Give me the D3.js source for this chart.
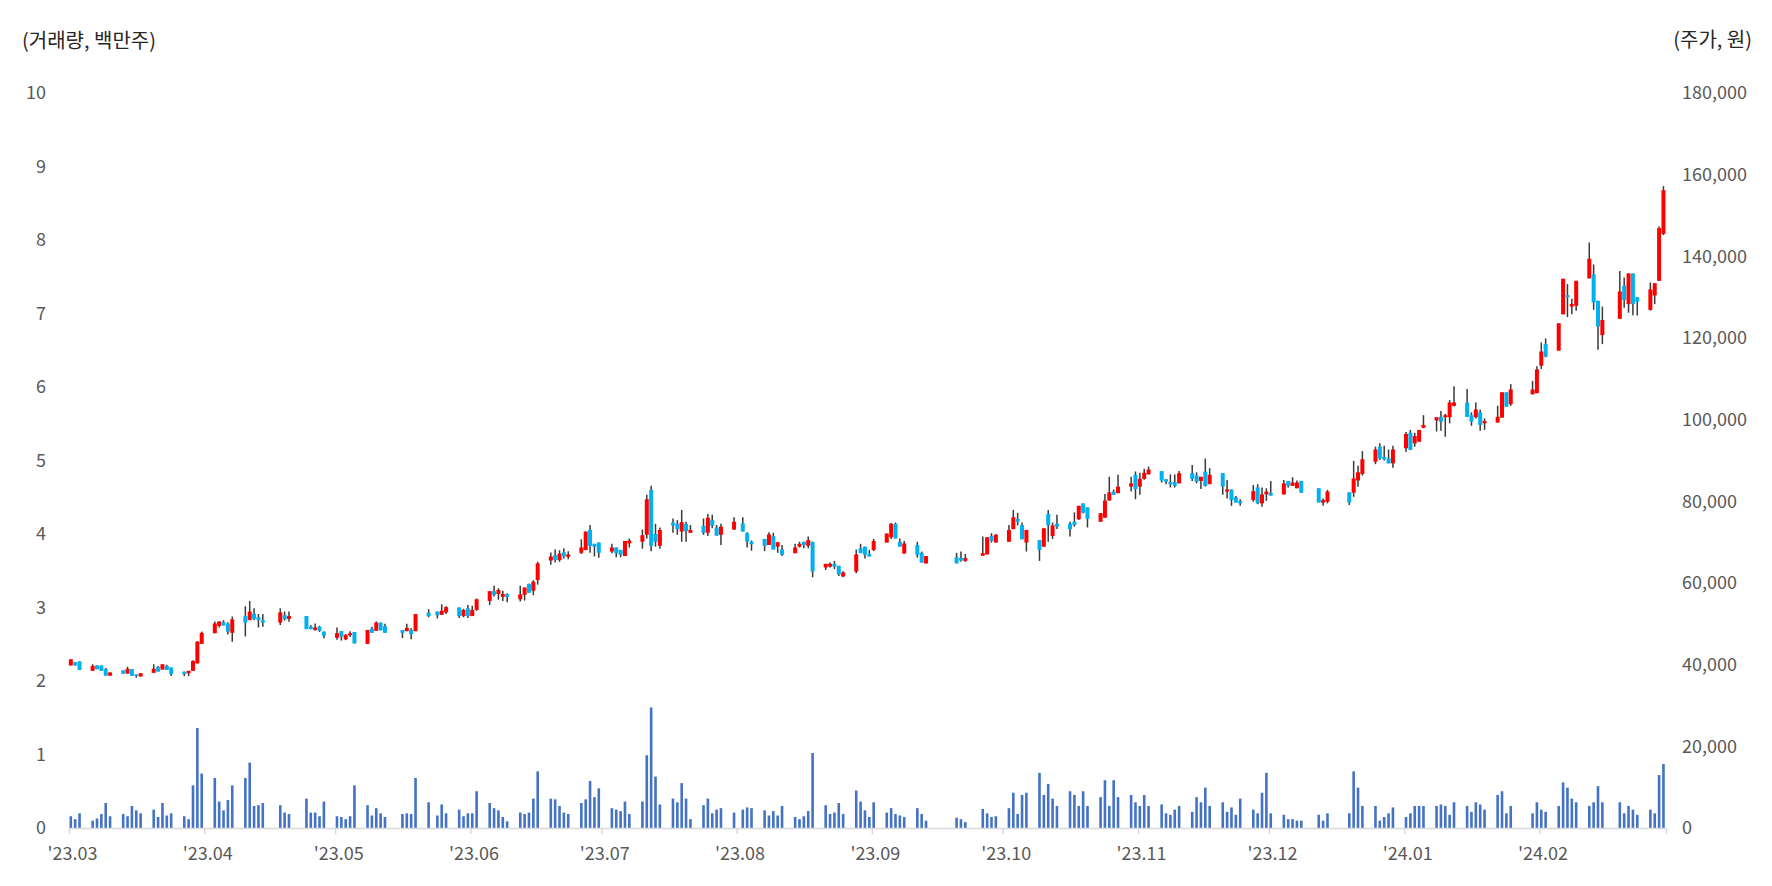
<!DOCTYPE html>
<html><head><meta charset="utf-8">
<script src="https://cdn.jsdelivr.net/npm/d3@7"></script>
<style>
body{margin:0;background:#fff;}
svg{display:block;}
text{font-family:"Noto Sans CJK KR","Noto Sans",sans-serif;}
</style>
</head><body>
<svg id="chart" width="1772" height="886"></svg>
<script>
const dates = [
"2023-03-01","2023-03-02","2023-03-03","2023-03-06","2023-03-07","2023-03-08","2023-03-09","2023-03-10","2023-03-13","2023-03-14","2023-03-15","2023-03-16","2023-03-17","2023-03-20","2023-03-21","2023-03-22","2023-03-23","2023-03-24","2023-03-27","2023-03-28","2023-03-29","2023-03-30","2023-03-31",
"2023-04-03","2023-04-04","2023-04-05","2023-04-06","2023-04-07","2023-04-10","2023-04-11","2023-04-12","2023-04-13","2023-04-14","2023-04-18","2023-04-19","2023-04-20","2023-04-24","2023-04-25","2023-04-26","2023-04-27","2023-04-28",
"2023-05-01","2023-05-02","2023-05-03","2023-05-04","2023-05-05","2023-05-08","2023-05-09","2023-05-10","2023-05-11","2023-05-12","2023-05-16","2023-05-17","2023-05-18","2023-05-19","2023-05-22","2023-05-24","2023-05-25","2023-05-26","2023-05-29","2023-05-30","2023-05-31",
"2023-06-01","2023-06-02","2023-06-05","2023-06-06","2023-06-07","2023-06-08","2023-06-09","2023-06-12","2023-06-13","2023-06-14","2023-06-15","2023-06-16","2023-06-19","2023-06-20","2023-06-21","2023-06-22","2023-06-23","2023-06-26","2023-06-27","2023-06-28","2023-06-29","2023-06-30",
"2023-07-03","2023-07-04","2023-07-05","2023-07-06","2023-07-07","2023-07-10","2023-07-11","2023-07-12","2023-07-13","2023-07-14","2023-07-17","2023-07-18","2023-07-19","2023-07-20","2023-07-21","2023-07-24","2023-07-25","2023-07-26","2023-07-27","2023-07-28","2023-07-31",
"2023-08-02","2023-08-03","2023-08-04","2023-08-07","2023-08-08","2023-08-09","2023-08-10","2023-08-11","2023-08-14","2023-08-15","2023-08-16","2023-08-17","2023-08-18","2023-08-21","2023-08-22","2023-08-23","2023-08-24","2023-08-25","2023-08-28","2023-08-29","2023-08-30","2023-08-31",
"2023-09-01","2023-09-04","2023-09-05","2023-09-06","2023-09-07","2023-09-08","2023-09-11","2023-09-12","2023-09-13","2023-09-20","2023-09-21","2023-09-22","2023-09-26","2023-09-27","2023-09-28","2023-09-29",
"2023-10-02","2023-10-03","2023-10-04","2023-10-05","2023-10-06","2023-10-09","2023-10-10","2023-10-11","2023-10-12","2023-10-13","2023-10-16","2023-10-17","2023-10-18","2023-10-19","2023-10-20","2023-10-23","2023-10-24","2023-10-25","2023-10-26","2023-10-27","2023-10-30","2023-10-31",
"2023-11-01","2023-11-02","2023-11-03","2023-11-06","2023-11-07","2023-11-08","2023-11-09","2023-11-10","2023-11-13","2023-11-14","2023-11-15","2023-11-16","2023-11-17","2023-11-20","2023-11-21","2023-11-22","2023-11-23","2023-11-24","2023-11-27","2023-11-28","2023-11-29","2023-11-30",
"2023-12-01","2023-12-04","2023-12-05","2023-12-06","2023-12-07","2023-12-08","2023-12-12","2023-12-13","2023-12-14","2023-12-19","2023-12-20","2023-12-21","2023-12-22","2023-12-25","2023-12-26","2023-12-27","2023-12-28","2023-12-29",
"2024-01-01","2024-01-02","2024-01-03","2024-01-04","2024-01-05","2024-01-08","2024-01-09","2024-01-10","2024-01-11","2024-01-12","2024-01-15","2024-01-16","2024-01-17","2024-01-18","2024-01-19","2024-01-22","2024-01-23","2024-01-24","2024-01-25","2024-01-30","2024-01-31",
"2024-02-01","2024-02-02","2024-02-05","2024-02-06","2024-02-07","2024-02-08","2024-02-09","2024-02-12","2024-02-13","2024-02-14","2024-02-15","2024-02-19","2024-02-20","2024-02-21","2024-02-22","2024-02-23","2024-02-26","2024-02-27","2024-02-28","2024-02-29"
];
const openPrice = [
39800,40600,40800,38500,39800,39800,38900,37300,38600,37800,38900,37600,37100,38000,39400,38800,39700,39300,38300,37900,38500,40300,45100,
47700,49500,50400,50100,47800,51900,50900,52500,51600,50900,50300,52100,51200,51900,49300,48500,49300,48100,
46600,48200,46200,47200,48000,45100,48800,48300,50300,49400,48500,48200,48500,48200,52700,53000,52200,52800,54000,51900,53800,
51900,53400,55600,58000,57300,56600,57300,56000,57100,59800,58100,60700,65500,66800,65600,67500,66400,67400,68100,73000,69600,69900,
67700,68700,68100,66600,69700,70100,71800,82800,72000,69100,74800,74500,72600,74500,72300,74000,72300,75400,73600,71800,73100,
74600,72200,70100,70800,69300,71500,68900,68200,67300,68900,70100,69100,70100,63800,64000,64700,64200,61600,62800,68500,68900,67100,
68100,69900,71200,74500,70100,67200,69300,67400,64800,66300,66100,65400,66700,67000,71500,69900,
70100,73200,75700,74200,69900,70500,68900,76900,71500,74500,74500,75000,75600,79500,78500,75000,76000,80200,82400,82000,83600,86500,
83600,85500,86600,87400,85400,84700,84700,84400,86900,86300,85000,87300,84200,86900,82400,82900,81000,80100,80300,83400,79500,81700,
82100,81700,85000,83800,83200,85000,83200,79700,79900,82200,82100,85100,86700,89700,93400,90900,90500,89300,
93000,96800,94200,94600,98000,99800,100700,100600,100600,103400,104200,101100,100600,101800,99100,99300,100500,106700,103800,106200,106500,
113200,118500,116900,125800,130500,127700,127900,134600,135600,129100,120700,124700,132800,128300,135800,130000,126900,130400,134000,145500
];
const highPrice = [
41300,40600,40800,40100,39800,39800,39200,38100,38600,39500,38900,37600,37900,40100,39700,40100,40000,39300,38300,38500,41100,45800,48100,
50600,50600,50900,50400,51800,54300,55600,53800,52400,52400,53800,53000,53000,51900,49700,50100,49500,48100,
49100,48200,47500,48200,48000,48500,49300,50600,50300,50000,48500,50000,48900,52400,53600,53000,54800,54300,54000,53700,54600,
54400,56200,58000,59300,58700,58100,57500,59300,58900,59800,60700,65200,67500,68200,68000,68500,67800,70700,72600,74200,69600,69900,
69600,68700,68100,70300,70900,73100,81600,83800,74500,73600,75800,75400,77900,75000,74200,75800,76900,76700,74200,74500,76100,
76100,72400,70400,70800,72400,72300,70000,69300,69600,70100,70100,71400,70100,64700,65000,65400,64200,62900,68200,69600,68900,68100,
70800,72100,74700,74800,70900,70300,70100,67700,66600,67400,67700,67100,71400,71200,72200,72000,
74200,77900,77200,74800,73000,70500,73400,77900,74800,76700,75000,77300,78900,79500,78500,77100,81800,86000,82900,86500,86000,87300,
87000,88000,88500,87400,85400,86600,86600,87400,88900,87100,86000,90500,88100,86900,85200,82900,81300,80500,84000,84200,83400,83200,
85000,85200,85000,85900,85100,85000,83200,80700,82800,82200,89900,88700,92300,93400,94200,93600,92700,93600,
97000,97500,96800,97500,101100,100600,102100,101400,104800,108200,107500,101800,104200,102400,100300,103400,106700,106700,108700,109500,113100,
118900,119900,123600,134500,133200,129600,134000,143400,138000,129100,127700,136400,134800,135800,135800,130000,133600,133400,147300,157200
];
const lowPrice = [
39800,39800,38700,38500,38900,38500,37300,37300,37800,37800,37300,36800,37100,38000,38300,38800,38700,37200,37200,37200,38500,40300,45100,
47700,49100,49600,47400,45600,46900,50900,50900,49100,49300,49700,50800,50500,48700,48700,48300,48000,46500,
46100,45900,46000,46800,45200,45100,47800,48300,48400,47800,46500,48200,46200,48200,51600,51300,52200,52400,51400,51600,51400,
51900,53200,54600,56700,55900,55600,55300,55500,55700,57600,57000,59600,64500,65000,65200,66000,65800,67100,68000,67400,66500,66200,
67300,66300,66300,66600,68700,68400,70900,67800,68900,68400,72300,71800,70100,70100,72300,71800,71500,73400,71600,69300,73000,
72600,68700,67900,67800,69300,68200,67400,66600,67300,68700,68500,68500,61400,63200,63800,63400,61700,61400,62400,67300,66000,66500,
67800,69900,70800,70900,68900,67200,66200,65000,64800,64800,65200,65200,66700,67000,69900,69900,
70100,73200,74100,70700,67700,65400,68900,70100,70800,73200,71400,73800,75400,77100,73600,75000,76000,80200,81600,82000,82400,80500,
81600,85300,86600,84600,84200,83400,83400,84400,85000,84400,83000,83600,84200,81600,80700,78900,79700,78900,79900,79300,78700,80100,
81400,81700,83400,83800,83200,82100,79700,78900,79500,79100,81100,83600,86300,89100,90100,90000,89300,88200,
92100,92600,93400,94600,97900,97100,97300,95800,99100,103200,100700,98500,100300,97300,97500,99300,100500,103200,103400,106200,106500,
112400,115300,116900,125800,125100,125800,126700,134600,126900,117100,118500,124700,127400,126200,125600,125500,126700,128300,134000,145200
];
const closePrice = [
41300,39800,38700,39700,38900,38500,37300,38100,37800,39000,37300,37300,37900,39000,38300,40100,38700,37700,37700,38500,40900,45600,47800,
50100,50600,49600,48100,51100,50300,53000,51200,50900,50300,52800,51100,51900,48700,48700,49100,48300,47100,
47700,46900,47300,47700,45200,48500,47800,50300,48400,47800,47800,49000,47500,52400,51900,52100,53200,54100,51900,53400,51900,
53400,56000,58000,57100,58300,57300,56600,57200,58900,57600,60300,64800,66500,65600,67200,66500,67000,68700,72600,69100,68900,67400,
68700,67300,66900,70300,70400,71700,80500,69100,70100,73000,74100,73200,74900,72700,73000,72300,76000,74000,71600,73800,75000,
72600,70100,69500,69100,71900,68200,70000,66900,68700,69600,69300,70500,62800,64700,64700,64000,62100,62600,67000,67300,66900,66500,
70300,72100,74500,70900,68900,69700,66900,65000,66600,64800,65500,66100,67300,71200,70300,71800,
73000,76100,75000,70700,73000,68100,73400,74100,74100,73800,73200,74200,78900,77200,75700,77100,80200,82200,81600,83600,84400,83000,
85500,87000,87800,85100,84800,84200,83800,86900,85500,84800,86000,83800,86500,83600,82900,80300,79700,79500,82500,79500,81700,82400,
81400,84400,83800,84600,84600,82100,79700,80300,82400,79700,85600,87100,90300,92700,90500,90300,89300,92700,
96500,92600,96000,97500,98700,100600,99500,101100,104200,104200,100700,99500,102500,98700,99700,100700,106700,103200,107400,107400,112300,
116700,115400,123600,134500,130000,128300,134000,139400,128700,122800,124400,131400,129300,135800,128300,128900,131900,133400,146900,156200
];
const volume = [
0.16,0.12,0.20,0.10,0.13,0.19,0.34,0.16,0.19,0.16,0.30,0.24,0.20,0.25,0.15,0.34,0.17,0.20,0.16,0.12,0.58,1.36,0.74,
0.68,0.36,0.24,0.38,0.58,0.68,0.89,0.30,0.31,0.34,0.31,0.21,0.19,0.40,0.21,0.21,0.16,0.36,
0.16,0.15,0.12,0.16,0.58,0.31,0.17,0.27,0.20,0.15,0.19,0.20,0.19,0.68,0.35,0.17,0.32,0.20,0.25,0.16,0.20,
0.20,0.50,0.34,0.27,0.24,0.15,0.09,0.21,0.19,0.21,0.40,0.77,0.40,0.39,0.30,0.21,0.19,0.34,0.39,0.64,0.42,0.54,
0.27,0.25,0.23,0.36,0.19,0.36,0.99,1.64,0.70,0.32,0.40,0.35,0.61,0.40,0.12,0.31,0.40,0.20,0.25,0.27,0.21,
0.25,0.28,0.27,0.24,0.17,0.23,0.17,0.30,0.15,0.12,0.16,0.23,1.02,0.31,0.19,0.21,0.34,0.19,0.51,0.36,0.24,0.15,
0.35,0.21,0.27,0.19,0.17,0.15,0.27,0.19,0.10,0.14,0.12,0.08,0.26,0.20,0.15,0.16,
0.27,0.48,0.19,0.45,0.48,0.75,0.45,0.60,0.40,0.30,0.50,0.45,0.30,0.50,0.30,0.42,0.65,0.30,0.65,0.42,0.45,0.35,
0.30,0.45,0.30,0.32,0.20,0.18,0.25,0.30,0.22,0.42,0.35,0.55,0.30,0.35,0.22,0.28,0.18,0.40,0.25,0.20,0.48,0.75,
0.20,0.18,0.12,0.12,0.10,0.10,0.18,0.10,0.20,0.20,0.77,0.55,0.30,0.30,0.10,0.15,0.20,0.28,
0.15,0.20,0.30,0.30,0.30,0.30,0.32,0.30,0.18,0.35,0.30,0.22,0.35,0.32,0.25,0.45,0.50,0.20,0.30,0.20,0.35,
0.25,0.22,0.30,0.62,0.55,0.40,0.35,0.30,0.35,0.57,0.35,0.35,0.20,0.30,0.25,0.18,0.25,0.20,0.72,0.87
];
const volumeTicks = [0,1,2,3,4,5,6,7,8,9,10];
const priceTicks = [0,20000,40000,60000,80000,100000,120000,140000,160000,180000];
const monthTicks = ["2023-03-01","2023-04-01","2023-05-01","2023-06-01","2023-07-01","2023-08-01","2023-09-01","2023-10-01","2023-11-01","2023-12-01","2024-01-01","2024-02-01","2024-03-01"];
const monthLabels = ["'23.03","'23.04","'23.05","'23.06","'23.07","'23.08","'23.09","'23.10","'23.11","'23.12","'24.01","'24.02",""];
const leftTitle = "(거래량, 백만주)";
const rightTitle = "(주가, 원)";

const parse = d3.timeParse("%Y-%m-%d");
const rows = dates.map((d,i)=>({date:parse(d),o:openPrice[i],h:highPrice[i],l:lowPrice[i],c:closePrice[i],v:volume[i]}));

const svg = d3.select("#chart");
const x = d3.scaleTime().domain([parse("2023-03-01"), parse("2024-03-01")]).range([69, 1666]);
const yP = d3.scaleLinear().domain([0,180000]).range([828,93]);
const yV = d3.scaleLinear().domain([0,10]).range([828,93]);
const cx = d => x(d3.timeHour.offset(d.date, 10));

// volume bars
svg.append("g").selectAll("rect").data(rows).join("rect")
  .attr("x", d => cx(d) - 1.3)
  .attr("width", 2.6)
  .attr("y", d => yV(d.v))
  .attr("height", d => yV(0) - yV(d.v))
  .attr("fill", "#4472C4");

// candles
const cg = svg.append("g");
cg.selectAll("line").data(rows).join("line")
  .attr("x1", cx).attr("x2", cx)
  .attr("y1", d => yP(d.h)).attr("y2", d => yP(d.l))
  .attr("stroke", "#3a3a3a").attr("stroke-width", 1.5);
cg.selectAll("rect").data(rows).join("rect")
  .attr("x", d => cx(d) - 2)
  .attr("width", 4)
  .attr("y", d => yP(Math.max(d.o,d.c)))
  .attr("height", d => Math.max(1.5, Math.abs(yP(d.o) - yP(d.c))))
  .attr("fill", d => d.c >= d.o ? "#FF0000" : "#00B0F0");

// x axis
const xAxis = svg.append("g").attr("transform","translate(0,828)")
  .call(d3.axisBottom(x).tickValues(monthTicks.map(parse)).tickSize(6).tickSizeOuter(0).tickPadding(13)
    .tickFormat((d,i)=>monthLabels[i]));
xAxis.select(".domain").attr("stroke","#d9d9d9").attr("stroke-width",1.5);
xAxis.selectAll(".tick line").attr("stroke","#d9d9d9").attr("stroke-width",1.5);
xAxis.selectAll(".tick text").attr("fill","#595959").style("font-size","18px").attr("dx","3");

// left axis
const lAxis = svg.append("g").attr("transform","translate(46,0)")
  .call(d3.axisLeft(yV).tickValues(volumeTicks).tickSize(0).tickPadding(0).tickFormat(d3.format("d")));
lAxis.select(".domain").remove();
lAxis.selectAll(".tick text").attr("fill","#595959").style("font-size","18px");

// right axis
const rAxis = svg.append("g").attr("transform","translate(1682,0)")
  .call(d3.axisRight(yP).tickValues(priceTicks).tickSize(0).tickPadding(0).tickFormat(d3.format(",")));
rAxis.select(".domain").remove();
rAxis.selectAll(".tick text").attr("fill","#595959").style("font-size","18px");

// titles
svg.append("text").attr("x",22).attr("y",43).attr("dominant-baseline","middle")
  .attr("fill","#262626").style("font-size","20px").text(leftTitle);
svg.append("text").attr("x",1752).attr("y",42).attr("dominant-baseline","middle").attr("text-anchor","end")
  .attr("fill","#262626").style("font-size","20px").text(rightTitle);
</script>
</body></html>
